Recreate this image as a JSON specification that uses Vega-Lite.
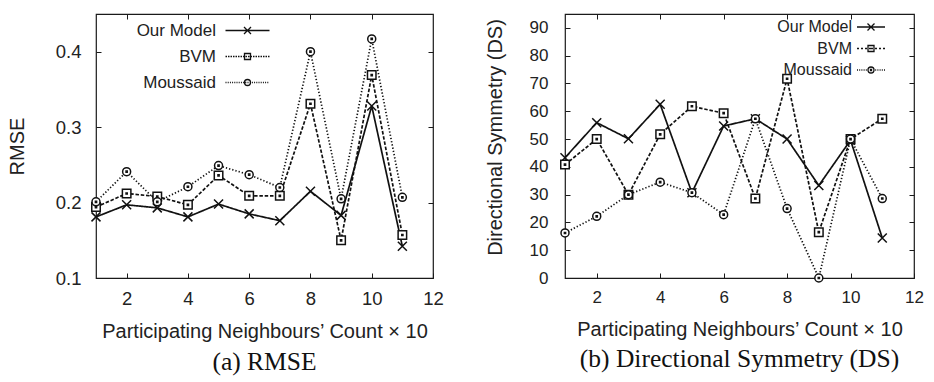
{
  "$schema": "https://vega.github.io/schema/vega-lite/v6.json",
  "padding": {"left": 6, "top": 12, "right": 0, "bottom": 0},
  "datasets": {
    "rmse": [
      {"x": 1, "series": "Our Model", "v": 0.181}, {"x": 2, "series": "Our Model", "v": 0.197}, {"x": 3, "series": "Our Model", "v": 0.193}, {"x": 4, "series": "Our Model", "v": 0.181}, {"x": 5, "series": "Our Model", "v": 0.198}, {"x": 6, "series": "Our Model", "v": 0.185}, {"x": 7, "series": "Our Model", "v": 0.176}, {"x": 8, "series": "Our Model", "v": 0.215}, {"x": 9, "series": "Our Model", "v": 0.183}, {"x": 10, "series": "Our Model", "v": 0.328}, {"x": 11, "series": "Our Model", "v": 0.142},
      {"x": 1, "series": "BVM", "v": 0.194}, {"x": 2, "series": "BVM", "v": 0.212}, {"x": 3, "series": "BVM", "v": 0.208}, {"x": 4, "series": "BVM", "v": 0.197}, {"x": 5, "series": "BVM", "v": 0.236}, {"x": 6, "series": "BVM", "v": 0.209}, {"x": 7, "series": "BVM", "v": 0.209}, {"x": 8, "series": "BVM", "v": 0.331}, {"x": 9, "series": "BVM", "v": 0.150}, {"x": 10, "series": "BVM", "v": 0.369}, {"x": 11, "series": "BVM", "v": 0.157},
      {"x": 1, "series": "Moussaid", "v": 0.201}, {"x": 2, "series": "Moussaid", "v": 0.241}, {"x": 3, "series": "Moussaid", "v": 0.201}, {"x": 4, "series": "Moussaid", "v": 0.221}, {"x": 5, "series": "Moussaid", "v": 0.249}, {"x": 6, "series": "Moussaid", "v": 0.237}, {"x": 7, "series": "Moussaid", "v": 0.220}, {"x": 8, "series": "Moussaid", "v": 0.400}, {"x": 9, "series": "Moussaid", "v": 0.205}, {"x": 10, "series": "Moussaid", "v": 0.417}, {"x": 11, "series": "Moussaid", "v": 0.207}
    ],
    "ds": [
      {"x": 1, "series": "Our Model", "v": 43.3}, {"x": 2, "series": "Our Model", "v": 55.9}, {"x": 3, "series": "Our Model", "v": 50.1}, {"x": 4, "series": "Our Model", "v": 62.5}, {"x": 5, "series": "Our Model", "v": 30.7}, {"x": 6, "series": "Our Model", "v": 54.7}, {"x": 7, "series": "Our Model", "v": 57.3}, {"x": 8, "series": "Our Model", "v": 50.0}, {"x": 9, "series": "Our Model", "v": 33.3}, {"x": 10, "series": "Our Model", "v": 49.6}, {"x": 11, "series": "Our Model", "v": 14.4},
      {"x": 1, "series": "BVM", "v": 40.8}, {"x": 2, "series": "BVM", "v": 50.0}, {"x": 3, "series": "BVM", "v": 30.0}, {"x": 4, "series": "BVM", "v": 51.7}, {"x": 5, "series": "BVM", "v": 61.8}, {"x": 6, "series": "BVM", "v": 59.3}, {"x": 7, "series": "BVM", "v": 28.6}, {"x": 8, "series": "BVM", "v": 71.7}, {"x": 9, "series": "BVM", "v": 16.5}, {"x": 10, "series": "BVM", "v": 50.0}, {"x": 11, "series": "BVM", "v": 57.3},
      {"x": 1, "series": "Moussaid", "v": 16.2}, {"x": 2, "series": "Moussaid", "v": 22.2}, {"x": 3, "series": "Moussaid", "v": 30.0}, {"x": 4, "series": "Moussaid", "v": 34.5}, {"x": 5, "series": "Moussaid", "v": 30.7}, {"x": 6, "series": "Moussaid", "v": 22.8}, {"x": 7, "series": "Moussaid", "v": 57.3}, {"x": 8, "series": "Moussaid", "v": 25.0}, {"x": 9, "series": "Moussaid", "v": 0.0}, {"x": 10, "series": "Moussaid", "v": 50.0}, {"x": 11, "series": "Moussaid", "v": 28.6}
    ]
  },
  "config": {
    "font": "Liberation Sans",
    "view": {"stroke": "#1a1a1a", "strokeWidth": 1.2},
    "axis": {"domain": false, "grid": false, "tickSize": -5, "tickColor": "#1a1a1a", "tickWidth": 1, "labelColor": "#222", "titleColor": "#222", "titleFontWeight": "normal", "labelFlush": false, "labelOverlap": false},
    "legend": {"padding": 0, "labelColor": "#222", "symbolSize": 100, "symbolStrokeWidth": 1.3, "labelAlign": "right"}
  },
  "resolve": {"scale": {"shape": "independent", "strokeDash": "independent", "stroke": "independent"}, "legend": {"shape": "independent", "strokeDash": "independent", "stroke": "independent"}},
  "spacing": 40,
  "hconcat": [
    {
      "width": 337, "height": 264,
      "data": {"name": "rmse"},
      "title": {"text": "(a) RMSE", "orient": "bottom", "font": "Liberation Serif", "fontSize": 25.5, "fontWeight": "normal", "color": "#111", "frame": "group", "anchor": "middle", "offset": 8},
      "layer": [
        {
          "mark": {"type": "line", "stroke": "#111", "strokeWidth": 1.7},
          "encoding": {
            "x": {"field": "x", "type": "quantitative", "scale": {"domain": [1, 12]}, "axis": {"orient": "bottom", "values": [2, 4, 6, 8, 10, 12], "title": "Participating Neighbours’ Count × 10", "labelFontSize": 18.5, "titleFontSize": 20, "labelPadding": 16, "titlePadding": 14}},
            "y": {"field": "v", "type": "quantitative", "scale": {"domain": [0.1, 0.45]}, "axis": {"orient": "left", "values": [0.1, 0.2, 0.3, 0.4], "format": ".1f", "title": "RMSE", "labelFontSize": 18.5, "titleFontSize": 20, "labelPadding": 20, "titlePadding": 28}},
            "strokeDash": {"field": "series", "type": "nominal", "scale": {"domain": ["Moussaid", "BVM", "Our Model"], "range": [[1.3, 2], [3.5, 1.8], [1, 0]]}, "legend": null}
          }
        },
        {
          "mark": {"type": "point", "filled": false, "fill": "white", "strokeWidth": 1.5, "opacity": 1, "size": 100},
          "encoding": {
            "x": {"field": "x", "type": "quantitative", "scale": {"domain": [1, 12]}, "axis": {"orient": "top", "values": [2, 4, 6, 8, 10], "labels": false, "title": null}},
            "y": {"field": "v", "type": "quantitative", "scale": {"domain": [0.1, 0.45]}, "axis": {"orient": "right", "values": [0.2, 0.3, 0.4], "labels": false, "title": null}},
            "shape": {"field": "series", "type": "nominal",
              "scale": {"domain": ["BVM", "Moussaid", "Our Model"], "range": ["M-0.85,-0.85H0.85V0.85H-0.85ZM-0.12,-0.12H0.12V0.12H-0.12Z", "M-0.8,0A0.8,0.8 0 1,1 0.8,0A0.8,0.8 0 1,1 -0.8,0ZM-0.12,-0.12H0.12V0.12H-0.12Z", "M-0.9,-0.9L0.9,0.9M-0.9,0.9L0.9,-0.9"]},
              "legend": null},
            "stroke": {"field": "series", "type": "nominal",
              "scale": {"domain": ["Our Model", "BVM", "Moussaid"], "range": ["#111", "#111", "#111"]},
              "legend": {"orient": "none", "legendX": 143, "legendY": 8, "title": null, "labelFontSize": 17, "labelOffset": -40, "rowPadding": 8,
                "encoding": {"symbols": {
                  "shape": {"value": {"expr": "datum.value === 'Our Model' ? 'M-4.4,0H4.4M-0.7,-0.7L0.7,0.7M-0.7,0.7L0.7,-0.7' : datum.value === 'BVM' ? 'M-4.4,0H-4.1M-3.9,0H-3.6M-3.4,0H-3.1M-2.9,0H-2.6M-2.4,0H-2.1M-1.9,0H-1.6M-1.4,0H-1.1M-0.9,0H-0.6M-0.4,0H-0.1M0.1,0H0.4M0.6,0H0.9M1.1,0H1.4M1.6,0H1.9M2.1,0H2.4M2.6,0H2.9M3.1,0H3.4M3.6,0H3.9M4.1,0H4.4M-0.6,-0.6H0.6V0.6H-0.6Z' : 'M-4.4,0H-4.2M-3.96,0H-3.76M-3.52,0H-3.32M-3.08,0H-2.88M-2.64,0H-2.44M-2.2,0H-2M-1.76,0H-1.56M-1.32,0H-1.12M-0.88,0H-0.68M-0.44,0H-0.24M0,0H0.2M0.44,0H0.64M0.88,0H1.08M1.32,0H1.52M1.76,0H1.96M2.2,0H2.4M2.64,0H2.84M3.08,0H3.28M3.52,0H3.72M3.96,0H4.16M-0.6,0A0.6,0.6 0 1,1 0.6,0A0.6,0.6 0 1,1 -0.6,0Z'"}},
                  "fill": {"value": "white"}
                }}
              }
            }
          }
        }
      ],
      "resolve": {"axis": {"x": "independent", "y": "independent"}}
    },
    {
      "width": 349, "height": 264,
      "data": {"name": "ds"},
      "title": {"text": "(b) Directional Symmetry (DS)", "orient": "bottom", "font": "Liberation Serif", "fontSize": 25.5, "fontWeight": "normal", "color": "#111", "frame": "group", "anchor": "middle", "offset": 8},
      "layer": [
        {
          "mark": {"type": "line", "stroke": "#111", "strokeWidth": 1.7},
          "encoding": {
            "x": {"field": "x", "type": "quantitative", "scale": {"domain": [1, 12]}, "axis": {"orient": "bottom", "values": [2, 4, 6, 8, 10, 12], "title": "Participating Neighbours’ Count × 10", "labelFontSize": 17, "titleFontSize": 20, "labelPadding": 16, "titlePadding": 14}},
            "y": {"field": "v", "type": "quantitative", "scale": {"domain": [0, 95]}, "axis": {"orient": "left", "values": [0, 10, 20, 30, 40, 50, 60, 70, 80, 90], "format": "d", "title": "Directional Symmetry (DS)", "labelFontSize": 17, "titleFontSize": 20, "labelPadding": 22, "titlePadding": 24, "titleY": 123}},
            "strokeDash": {"field": "series", "type": "nominal", "scale": {"domain": ["Moussaid", "BVM", "Our Model"], "range": [[1.3, 2], [3.5, 1.8], [1, 0]]}, "legend": null}
          }
        },
        {
          "mark": {"type": "point", "filled": false, "fill": "white", "strokeWidth": 1.5, "opacity": 1, "size": 100},
          "encoding": {
            "x": {"field": "x", "type": "quantitative", "scale": {"domain": [1, 12]}, "axis": {"orient": "top", "values": [2, 4, 6, 8, 10], "labels": false, "title": null}},
            "y": {"field": "v", "type": "quantitative", "scale": {"domain": [0, 95]}, "axis": {"orient": "right", "values": [10, 20, 30, 40, 50, 60, 70, 80, 90], "labels": false, "title": null}},
            "shape": {"field": "series", "type": "nominal",
              "scale": {"domain": ["BVM", "Moussaid", "Our Model"], "range": ["M-0.85,-0.85H0.85V0.85H-0.85ZM-0.12,-0.12H0.12V0.12H-0.12Z", "M-0.8,0A0.8,0.8 0 1,1 0.8,0A0.8,0.8 0 1,1 -0.8,0ZM-0.12,-0.12H0.12V0.12H-0.12Z", "M-0.9,-0.9L0.9,0.9M-0.9,0.9L0.9,-0.9"]},
              "legend": null},
            "stroke": {"field": "series", "type": "nominal",
              "scale": {"domain": ["Our Model", "BVM", "Moussaid"], "range": ["#111", "#111", "#111"]},
              "legend": {"orient": "none", "legendX": 298, "legendY": 5, "title": null, "labelFontSize": 16, "labelOffset": -27, "rowPadding": 5.5,
                "encoding": {"symbols": {
                  "shape": {"value": {"expr": "datum.value === 'Our Model' ? 'M-2.8,0H2.8M-0.7,-0.7L0.7,0.7M-0.7,0.7L0.7,-0.7' : datum.value === 'BVM' ? 'M-2.8,0H-2.4M-2,0H-1.6M-1.2,0H-0.8M-0.4,0H0.4M0.8,0H1.2M1.6,0H2M2.4,0H2.8M-0.6,-0.6H0.6V0.6H-0.6Z' : 'M-2.8,0H-2.6M-2.36,0H-2.16M-1.92,0H-1.72M-1.48,0H-1.28M-1.04,0H-0.84M0.84,0H1.04M1.28,0H1.48M1.72,0H1.92M2.16,0H2.36M2.6,0H2.8M-0.6,0A0.6,0.6 0 1,1 0.6,0A0.6,0.6 0 1,1 -0.6,0ZM-0.1,-0.1H0.1V0.1H-0.1Z'"}},
                  "fill": {"value": "white"}
                }}
              }
            }
          }
        }
      ],
      "resolve": {"axis": {"x": "independent", "y": "independent"}}
    }
  ]
}
